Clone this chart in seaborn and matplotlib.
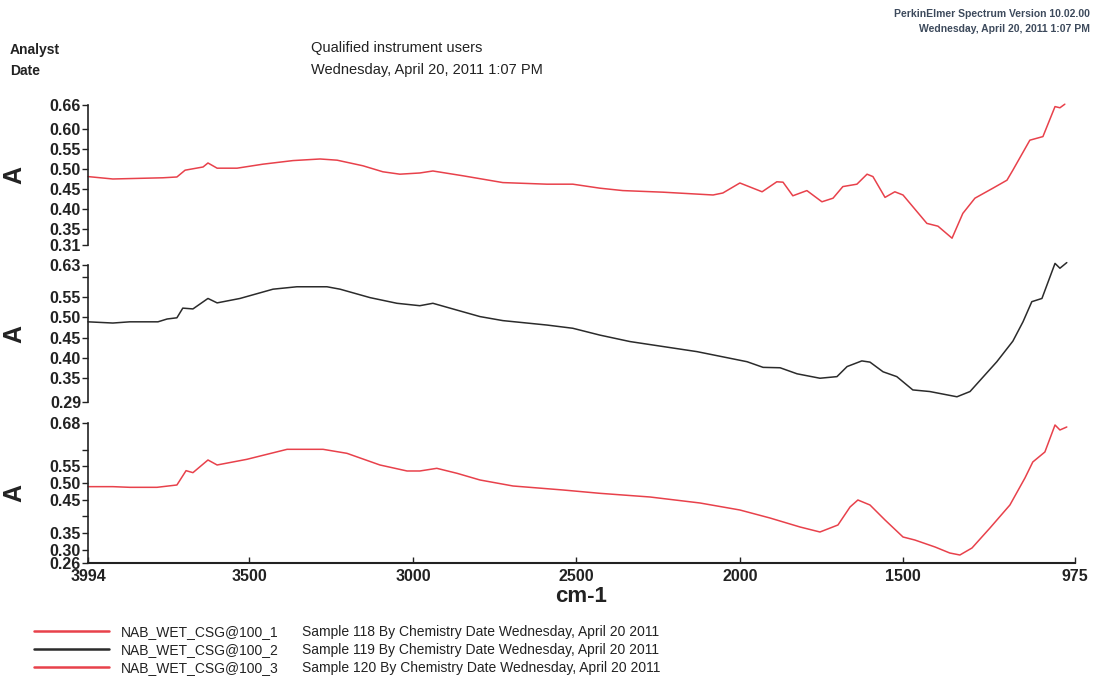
import matplotlib
matplotlib.use("Agg")
import matplotlib.pyplot as plt
import seaborn as sns
import pandas as pd
from matplotlib.lines import Line2D

# ---------------- data ----------------
wn1 = [3994, 3918, 3765, 3722, 3697, 3642, 3627, 3599, 3538, 3459, 3367, 3284, 3232, 3153, 3092,
       3040, 2979, 2939, 2847, 2725, 2590, 2511, 2428, 2358, 2235, 2082, 2052, 2000, 1932, 1887,
       1868, 1838, 1795, 1749, 1715, 1685, 1642, 1611, 1593, 1556, 1526, 1501, 1428, 1394, 1351,
       1318, 1281, 1226, 1183, 1165, 1113, 1073, 1036, 1021, 1006]
a1 = [0.481, 0.475, 0.478, 0.480, 0.497, 0.505, 0.515, 0.502, 0.502, 0.512, 0.521, 0.525, 0.522, 0.508, 0.493,
      0.487, 0.490, 0.495, 0.483, 0.466, 0.462, 0.462, 0.452, 0.446, 0.442, 0.435, 0.440, 0.465, 0.443, 0.468,
      0.467, 0.433, 0.446, 0.418, 0.427, 0.456, 0.462, 0.487, 0.481, 0.429, 0.443, 0.435, 0.364, 0.357, 0.327,
      0.389, 0.427, 0.452, 0.472, 0.497, 0.572, 0.581, 0.656, 0.653, 0.662]

wn2 = [3994, 3918, 3866, 3780, 3752, 3722, 3704, 3673, 3627, 3599, 3529, 3428, 3355, 3263, 3223,
       3131, 3049, 2979, 2939, 2865, 2795, 2725, 2590, 2511, 2428, 2336, 2131, 1978, 1929, 1877,
       1825, 1755, 1703, 1672, 1627, 1602, 1562, 1520, 1471, 1419, 1336, 1296, 1214, 1165, 1134,
       1107, 1076, 1036, 1021, 1000]
a2 = [0.489, 0.486, 0.489, 0.489, 0.496, 0.499, 0.523, 0.521, 0.547, 0.536, 0.547, 0.570, 0.576, 0.576, 0.570,
      0.549, 0.535, 0.529, 0.535, 0.518, 0.502, 0.492, 0.481, 0.473, 0.456, 0.440, 0.415, 0.390, 0.376, 0.375,
      0.360, 0.349, 0.353, 0.378, 0.392, 0.389, 0.365, 0.353, 0.320, 0.316, 0.303, 0.316, 0.390, 0.441, 0.489,
      0.539, 0.547, 0.634, 0.622, 0.636]

wn3 = [3994, 3918, 3866, 3783, 3722, 3694, 3673, 3627, 3599, 3508, 3385, 3275, 3202, 3101, 3018,
       2979, 2927, 2865, 2795, 2694, 2541, 2428, 2275, 2122, 2000, 1908, 1816, 1755, 1700, 1663,
       1639, 1602, 1556, 1501, 1465, 1403, 1358, 1327, 1290, 1235, 1174, 1128, 1104, 1067, 1036,
       1021, 1000]
a3 = [0.489, 0.489, 0.487, 0.487, 0.494, 0.537, 0.531, 0.569, 0.554, 0.571, 0.601, 0.601, 0.589, 0.554, 0.536,
      0.536, 0.544, 0.529, 0.509, 0.491, 0.479, 0.469, 0.458, 0.440, 0.419, 0.395, 0.368, 0.353, 0.374, 0.428,
      0.449, 0.434, 0.389, 0.338, 0.329, 0.308, 0.290, 0.284, 0.305, 0.365, 0.434, 0.515, 0.563, 0.593, 0.674,
      0.659, 0.668]

names = ["NAB_WET_CSG@100_1", "NAB_WET_CSG@100_2", "NAB_WET_CSG@100_3"]
samples = ["Sample 118 By Chemistry Date Wednesday, April 20 2011",
           "Sample 119 By Chemistry Date Wednesday, April 20 2011",
           "Sample 120 By Chemistry Date Wednesday, April 20 2011"]
ylims = [(0.31, 0.66), (0.29, 0.63), (0.26, 0.68)]
yticks = [[0.31, 0.35, 0.40, 0.45, 0.50, 0.55, 0.60, 0.66],
          [0.29, 0.35, 0.40, 0.45, 0.50, 0.55, 0.60, 0.63],
          [0.26, 0.30, 0.35, 0.40, 0.45, 0.50, 0.55, 0.60, 0.68]]
ytick_labels = [["0.31", "0.35", "0.40", "0.45", "0.50", "0.55", "0.60", "0.66"],
                ["0.29", "0.35", "0.40", "0.45", "0.50", "0.55", "", "0.63"],
                ["0.26", "0.30", "0.35", "", "0.45", "0.50", "0.55", "", "0.68"]]
xticks = [3994, 3500, 3000, 2500, 2000, 1500, 975]
xtick_labels = ["3994", "3500", "3000", "2500", "2000", "1500", "975"]

# ---------------- style ----------------
sns.set_theme(style="white")
FONT = ["Liberation Sans Narrow", "Liberation Sans", "DejaVu Sans"]
plt.rcParams["font.family"] = FONT

RED = "#e8414b"
BLACK = "#2b2b2b"
colors = [RED, BLACK, RED]
INK = "#222222"

fig = plt.figure(figsize=(11.04, 6.83), dpi=100)
fig.patch.set_facecolor("white")

left, right = 0.0797, 0.9737
boxes = [(0.6413, 0.8463), (0.4114, 0.6120), (0.1757, 0.3807)]
datasets = [(wn1, a1), (wn2, a2), (wn3, a3)]
for i, ((b, t), (wn, a)) in enumerate(zip(boxes, datasets)):
    ax = fig.add_axes([left, b, right - left, t - b])
    df = pd.DataFrame({"wn": wn, "A": a})
    sns.lineplot(data=df, x="wn", y="A", ax=ax, color=colors[i], lw=1.1, sort=False)
    for ln in ax.get_lines():
        ln.set_clip_on(False)
    ax.set_xlim(3994, 975)
    ax.set_ylim(*ylims[i])
    ax.set_facecolor("none")
    ax.set_yticks(yticks[i])
    ax.set_yticklabels(ytick_labels[i], fontsize=11.5, fontweight="bold", color=INK)
    ax.tick_params(axis="y", direction="out", length=4, width=1, color=INK, pad=1, left=True)
    for s in ["top", "right"]:
        ax.spines[s].set_visible(False)
    ax.spines["left"].set_color(INK)
    ax.spines["left"].set_linewidth(1.2)
    ax.set_ylabel("A", fontsize=18, fontweight="bold", rotation=90, color=INK)
    ax.yaxis.set_label_coords(-0.062, 0.5)
    if i < 2:
        ax.spines["bottom"].set_visible(False)
        ax.set_xticks([])
        ax.set_xlabel("")
    else:
        ax.spines["bottom"].set_color(INK)
        ax.spines["bottom"].set_linewidth(1.5)
        ax.set_xticks(xticks)
        ax.set_xticklabels(xtick_labels, fontsize=11.5, fontweight="bold", color=INK)
        ax.tick_params(axis="x", direction="in", length=4, width=1, color=INK, pad=4, bottom=True)
        ax.set_xlabel("cm-1", fontsize=16, fontweight="bold", color=INK, labelpad=2)

# ---------------- header texts ----------------
fig.text(0.009, 0.927, "Analyst", fontsize=10, fontweight="bold", va="center", color=INK)
fig.text(0.009, 0.896, "Date", fontsize=10, fontweight="bold", va="center", color=INK)
fig.text(0.282, 0.929, "Qualified instrument users", fontsize=10.5, va="center", color=INK)
fig.text(0.282, 0.897, "Wednesday, April 20, 2011 1:07 PM", fontsize=10.5, va="center", color=INK)
fig.text(0.987, 0.980, "PerkinElmer Spectrum Version 10.02.00", fontsize=7.5, fontweight="bold",
         ha="right", va="center", color="#3d4a5c")
fig.text(0.987, 0.958, "Wednesday, April 20, 2011 1:07 PM", fontsize=7.5, fontweight="bold",
         ha="right", va="center", color="#3d4a5c")

# ---------------- legend ----------------
handles = [Line2D([], [], color=c, lw=1.8) for c in colors]
leg1 = fig.legend(handles, names, loc="upper left", bbox_to_anchor=(0.031, 0.085), frameon=False,
                  fontsize=10, handlelength=5.4, handletextpad=0.85, labelspacing=0.28,
                  borderaxespad=0, borderpad=0)
blank = [Line2D([], [], color="none") for _ in samples]
leg2 = fig.legend(blank, samples, loc="upper left", bbox_to_anchor=(0.274, 0.085), frameon=False,
                  fontsize=10, handlelength=0, handletextpad=0, labelspacing=0.28,
                  borderaxespad=0, borderpad=0)
for t in leg1.get_texts() + leg2.get_texts():
    t.set_color(INK)

fig.savefig("out.png", dpi=100, facecolor="white")
